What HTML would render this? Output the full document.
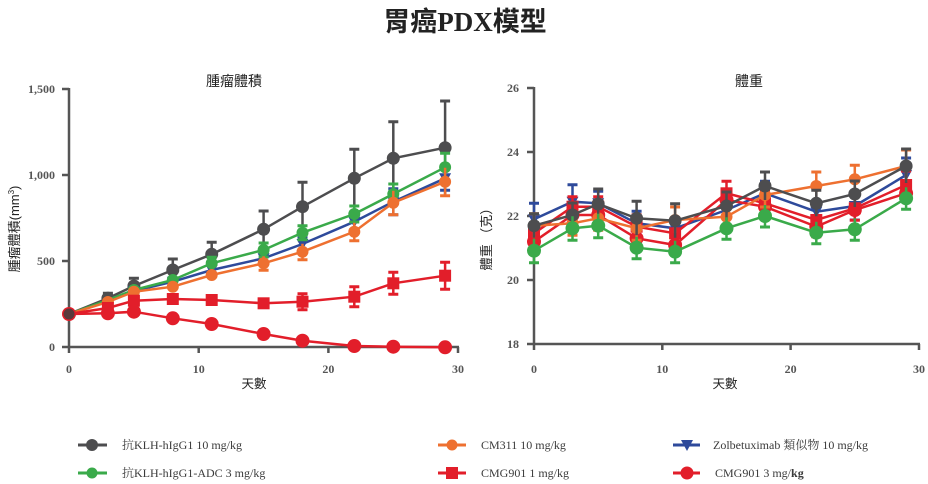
<!DOCTYPE html>
<html><head><meta charset="utf-8"><style>
html,body{margin:0;padding:0;background:#fff;}
svg{display:block;}
.tk{font-family:"Liberation Serif",serif;font-weight:bold;font-size:12px;fill:#555;}
.cj{font-family:"Liberation Sans","Noto Sans CJK TC",sans-serif;fill:#222;}
.lg{font-family:"Liberation Serif","Noto Serif CJK SC",serif;font-size:12px;fill:#3a3a3a;}
</style></head><body>
<svg width="928" height="484" viewBox="0 0 928 484" xmlns="http://www.w3.org/2000/svg">
<defs>
<circle id="cg" r="6.5" fill="#4d4d4f"/>
<circle id="cgr" r="6" fill="#3aaa4a"/>
<circle id="cgr2" r="7" fill="#3aaa4a"/>
<circle id="co" r="6" fill="#ee7030"/>
<circle id="cr" r="7" fill="#e21e2a"/>
<rect id="sr" x="-6" y="-6" width="12" height="12" fill="#e21e2a"/>
<polygon id="tb" points="-6,-5 6,-5 0,6" fill="#2e4a9b"/>
</defs>
<rect width="928" height="484" fill="#fff"/>

<!-- Title -->
<text x="465" y="31" text-anchor="middle" font-size="27" font-weight="bold" fill="#222"><tspan font-family="Noto Sans CJK TC,sans-serif">胃癌</tspan><tspan font-family="Liberation Serif,serif">PDX</tspan><tspan font-family="Noto Sans CJK TC,sans-serif">模型</tspan></text>

<!-- ============ LEFT CHART ============ -->
<text class="cj" x="234" y="86" text-anchor="middle" font-size="14">腫瘤體積</text>
<text class="cj" transform="translate(19,229) rotate(-90)" text-anchor="middle" font-size="13">腫瘤體積(mm<tspan font-size="8" dy="-5">3</tspan><tspan dy="5">)</tspan></text>
<text class="cj" x="254" y="388" text-anchor="middle" font-size="12.5">天數</text>
<g stroke="#555" stroke-width="2.5" fill="none">
<line x1="69" y1="88" x2="69" y2="353"/>
<line x1="68" y1="347" x2="459" y2="347"/>
<line x1="62" y1="89" x2="69" y2="89"/>
<line x1="62" y1="175" x2="69" y2="175"/>
<line x1="62" y1="261" x2="69" y2="261"/>
<line x1="62" y1="347" x2="69" y2="347"/>
<line x1="198.7" y1="347" x2="198.7" y2="353"/>
<line x1="328.4" y1="347" x2="328.4" y2="353"/>
<line x1="458" y1="347" x2="458" y2="353"/>
</g>
<text class="tk" x="55" y="93" text-anchor="end">1,500</text>
<text class="tk" x="55" y="179" text-anchor="end">1,000</text>
<text class="tk" x="55" y="265" text-anchor="end">500</text>
<text class="tk" x="55" y="351" text-anchor="end">0</text>
<text class="tk" x="69" y="373" text-anchor="middle">0</text>
<text class="tk" x="198.7" y="373" text-anchor="middle">10</text>
<text class="tk" x="328.4" y="373" text-anchor="middle">20</text>
<text class="tk" x="458" y="373" text-anchor="middle">30</text>

<!-- gray -->
<g stroke="#4d4d4f" stroke-width="2.5" fill="none">
<polyline points="69,314 107.9,298.3 133.9,286 172.8,270 211.7,254.3 263.6,229.3 302.5,206.7 354.3,178.3 393.3,158.3 445.1,147.7"/>
<path d="M107.9,293.3V303.3M133.9,278.3V293.7M172.8,259V281M211.7,242.3V266.3M263.6,211V247.6M302.5,182.3V231.1M354.3,149.3V207.3M393.3,121.7V194.9M445.1,101V194.4"/>
<path stroke-width="3" d="M102.9,293.3h10M128.9,278.3h10M167.8,259h10M206.7,242.3h10M258.6,211h10M297.5,182.3h10M349.3,149.3h10M388.3,121.7h10M440.1,101h10"/>
</g>
<g><use href="#cg" x="69" y="314"/><use href="#cg" x="107.9" y="298.3"/><use href="#cg" x="133.9" y="286"/><use href="#cg" x="172.8" y="270"/><use href="#cg" x="211.7" y="254.3"/><use href="#cg" x="263.6" y="229.3"/><use href="#cg" x="302.5" y="206.7"/><use href="#cg" x="354.3" y="178.3"/><use href="#cg" x="393.3" y="158.3"/><use href="#cg" x="445.1" y="147.7"/></g>

<!-- blue -->
<g stroke="#2e4a9b" stroke-width="2.5" fill="none">
<polyline points="69,314 107.9,301 133.9,291 172.8,281.7 211.7,270 263.6,258.3 302.5,244 354.3,221.7 393.3,201.7 445.1,178.3"/>
<path d="M263.6,252.3V264.3M302.5,237V251M354.3,213.7V229.7M393.3,188.7V214.7M445.1,166.3V190.3"/>
<path stroke-width="3" d="M258.6,252.3h10M258.6,264.3h10M297.5,237h10M297.5,251h10M349.3,213.7h10M349.3,229.7h10M388.3,188.7h10M388.3,214.7h10M440.1,166.3h10M440.1,190.3h10"/>
</g>
<g><use href="#tb" x="133.9" y="291"/><use href="#tb" x="172.8" y="281.7"/><use href="#tb" x="211.7" y="270"/><use href="#tb" x="263.6" y="258.3"/><use href="#tb" x="302.5" y="244"/><use href="#tb" x="354.3" y="221.7"/><use href="#tb" x="393.3" y="201.7"/><use href="#tb" x="445.1" y="178.3"/></g>

<!-- green -->
<g stroke="#3aaa4a" stroke-width="2.5" fill="none">
<polyline points="69,314 107.9,300 133.9,290 172.8,280 211.7,263.3 263.6,250 302.5,232.7 354.3,214 393.3,194 445.1,167.3"/>
<path d="M211.7,257.3V269.3M263.6,243V257M302.5,225.7V239.7M354.3,206V222M393.3,184V204M445.1,153.3V181.3"/>
<path stroke-width="3" d="M206.7,257.3h10M258.6,243h10M258.6,257h10M297.5,225.7h10M297.5,239.7h10M349.3,206h10M349.3,222h10M388.3,184h10M388.3,204h10M440.1,153.3h10M440.1,181.3h10"/>
</g>
<g><use href="#cgr" x="133.9" y="290"/><use href="#cgr" x="172.8" y="280"/><use href="#cgr" x="211.7" y="263.3"/><use href="#cgr" x="263.6" y="250"/><use href="#cgr" x="302.5" y="232.7"/><use href="#cgr" x="354.3" y="214"/><use href="#cgr" x="393.3" y="194"/><use href="#cgr" x="445.1" y="167.3"/></g>

<!-- orange -->
<g stroke="#ee7030" stroke-width="2.5" fill="none">
<polyline points="69,314 107.9,302 133.9,291.7 172.8,286.7 211.7,275 263.6,263.3 302.5,251.7 354.3,231.7 393.3,202.7 445.1,181.7"/>
<path d="M263.6,256.3V270.3M302.5,243.7V259.7M354.3,222.7V240.7M393.3,190.7V214.7M445.1,167.7V195.7"/>
<path stroke-width="3" d="M258.6,270.3h10M297.5,259.7h10M349.3,240.7h10M388.3,214.7h10M440.1,195.7h10"/>
</g>
<g><use href="#co" x="107.9" y="302"/><use href="#co" x="133.9" y="291.7"/><use href="#co" x="172.8" y="286.7"/><use href="#co" x="211.7" y="275"/><use href="#co" x="263.6" y="263.3"/><use href="#co" x="302.5" y="251.7"/><use href="#co" x="354.3" y="231.7"/><use href="#co" x="393.3" y="202.7"/><use href="#co" x="445.1" y="181.7"/></g>

<!-- red square -->
<g stroke="#e21e2a" stroke-width="2.5" fill="none">
<polyline points="69,314 107.9,308 133.9,300.7 172.8,299 211.7,300 263.6,303.3 302.5,301.7 354.3,296.7 393.3,283.3 445.1,275.7"/>
<path d="M302.5,293.7V309.7M354.3,286.7V306.7M393.3,272.3V294.3M445.1,262.2V289.2"/>
<path stroke-width="3" d="M297.5,293.7h10M297.5,309.7h10M349.3,286.7h10M349.3,306.7h10M388.3,272.3h10M388.3,294.3h10M440.1,262.2h10M440.1,289.2h10"/>
</g>
<g><use href="#sr" x="107.9" y="308"/><use href="#sr" x="133.9" y="300.7"/><use href="#sr" x="172.8" y="299"/><use href="#sr" x="211.7" y="300"/><use href="#sr" x="263.6" y="303.3"/><use href="#sr" x="302.5" y="301.7"/><use href="#sr" x="354.3" y="296.7"/><use href="#sr" x="393.3" y="283.3"/><use href="#sr" x="445.1" y="275.7"/></g>

<!-- red circle -->
<polyline fill="none" stroke="#e21e2a" stroke-width="2.5" points="69,314 107.9,313.3 133.9,311.7 172.8,318.3 211.7,324 263.6,334 302.5,340.7 354.3,346 393.3,346.7 445.1,347.3"/>
<g><use href="#cr" x="107.9" y="313.3"/><use href="#cr" x="133.9" y="311.7"/><use href="#cr" x="172.8" y="318.3"/><use href="#cr" x="211.7" y="324"/><use href="#cr" x="263.6" y="334"/><use href="#cr" x="302.5" y="340.7"/><use href="#cr" x="354.3" y="346"/><use href="#cr" x="393.3" y="346.7"/><use href="#cr" x="445.1" y="347.3"/></g>
<circle cx="69" cy="314" r="7" fill="#e21e2a"/>
<circle cx="69" cy="314" r="5.5" fill="#5a3a3c"/>

<!-- ============ RIGHT CHART ============ -->
<text class="cj" x="749" y="86" text-anchor="middle" font-size="14">體重</text>
<text class="cj" transform="translate(491,236) rotate(-90)" text-anchor="middle" font-size="13">體重 （克）</text>
<text class="cj" x="725" y="388" text-anchor="middle" font-size="12.5">天數</text>
<g stroke="#555" stroke-width="2.5" fill="none">
<line x1="534" y1="87" x2="534" y2="350"/>
<line x1="533" y1="344" x2="920" y2="344"/>
<line x1="527" y1="88" x2="534" y2="88"/>
<line x1="527" y1="152" x2="534" y2="152"/>
<line x1="527" y1="216" x2="534" y2="216"/>
<line x1="527" y1="280" x2="534" y2="280"/>
<line x1="527" y1="344" x2="534" y2="344"/>
<line x1="662.3" y1="344" x2="662.3" y2="350"/>
<line x1="790.6" y1="344" x2="790.6" y2="350"/>
<line x1="919" y1="344" x2="919" y2="350"/>
</g>
<text class="tk" x="519" y="92" text-anchor="end">26</text>
<text class="tk" x="519" y="156" text-anchor="end">24</text>
<text class="tk" x="519" y="220" text-anchor="end">22</text>
<text class="tk" x="519" y="284" text-anchor="end">20</text>
<text class="tk" x="519" y="348" text-anchor="end">18</text>
<text class="tk" x="534" y="373" text-anchor="middle">0</text>
<text class="tk" x="662.3" y="373" text-anchor="middle">10</text>
<text class="tk" x="790.6" y="373" text-anchor="middle">20</text>
<text class="tk" x="919" y="373" text-anchor="middle">30</text>

<!-- blue -->
<g stroke="#2e4a9b" stroke-width="2.5" fill="none">
<polyline points="534,219.3 572.5,201.7 598.2,203.3 636.6,223.3 675.1,228.3 726.5,210 765,193.3 816.3,211.7 854.8,206 906.1,175"/>
<path d="M534,203.3V235.3M572.5,184.7V218.7M598.2,191.3V215.3M636.6,211.3V235.3M675.1,214.3V242.3M726.5,196V224M765,181.3V205.3M816.3,197.7V225.7M854.8,192V220M906.1,158V192"/>
<path stroke-width="3" d="M529,203.3h10M529,235.3h10M567.5,184.7h10M567.5,218.7h10M593.2,191.3h10M631.6,211.3h10M670.1,242.3h10M721.5,196h10M760,181.3h10M811.3,225.7h10M849.8,220h10M901.1,158h10M901.1,192h10"/>
</g>
<g><use href="#tb" x="534" y="219.3"/><use href="#tb" x="572.5" y="201.7"/><use href="#tb" x="598.2" y="203.3"/><use href="#tb" x="636.6" y="223.3"/><use href="#tb" x="675.1" y="228.3"/><use href="#tb" x="726.5" y="210"/><use href="#tb" x="765" y="193.3"/><use href="#tb" x="816.3" y="211.7"/><use href="#tb" x="854.8" y="206"/><use href="#tb" x="906.1" y="175"/></g>

<!-- red square -->
<g stroke="#e21e2a" stroke-width="2.5" fill="none">
<polyline points="534,233.3 572.5,206.7 598.2,206.7 636.6,226.7 675.1,233.3 726.5,193.3 765,203.3 816.3,220 854.8,208.3 906.1,185"/>
<path d="M534,221.3V245.3M572.5,196.7V216.7M598.2,196.7V216.7M636.6,214.7V238.7M675.1,221.3V245.3M726.5,181.3V205.3M765,191.3V215.3M816.3,208V232M854.8,196.3V220.3M906.1,171V199"/>
<path stroke-width="3" d="M567.5,196.7h10M593.2,196.7h10M631.6,214.7h10M670.1,245.3h10M721.5,181.3h10M760,191.3h10M811.3,232h10M849.8,220.3h10M901.1,171h10"/>
</g>
<g><use href="#sr" x="534" y="233.3"/><use href="#sr" x="572.5" y="206.7"/><use href="#sr" x="598.2" y="206.7"/><use href="#sr" x="636.6" y="226.7"/><use href="#sr" x="675.1" y="233.3"/><use href="#sr" x="726.5" y="193.3"/><use href="#sr" x="765" y="203.3"/><use href="#sr" x="816.3" y="220"/><use href="#sr" x="854.8" y="208.3"/><use href="#sr" x="906.1" y="185"/></g>

<!-- red circle -->
<g stroke="#e21e2a" stroke-width="2.5" fill="none">
<polyline points="534,241.7 572.5,215 598.2,215 636.6,238.3 675.1,245 726.5,200 765,206.7 816.3,226.7 854.8,210 906.1,193.3"/>
<path d="M534,231.7V251.7M636.6,228.3V248.3M675.1,235V255M726.5,190V210M816.3,216.7V236.7M906.1,181.3V205.3"/>
<path stroke-width="3" d="M529,251.7h10M631.6,248.3h10M670.1,255h10M721.5,190h10M811.3,236.7h10M901.1,181.3h10"/>
</g>
<g><use href="#cr" x="534" y="241.7"/><use href="#cr" x="572.5" y="215"/><use href="#cr" x="598.2" y="215"/><use href="#cr" x="636.6" y="238.3"/><use href="#cr" x="675.1" y="245"/><use href="#cr" x="726.5" y="200"/><use href="#cr" x="765" y="206.7"/><use href="#cr" x="816.3" y="226.7"/><use href="#cr" x="854.8" y="210"/><use href="#cr" x="906.1" y="193.3"/></g>

<!-- orange -->
<g stroke="#ee7030" stroke-width="2.5" fill="none">
<polyline points="534,225.7 572.5,223.3 598.2,218.3 636.6,228.3 675.1,220 726.5,216.7 765,195 816.3,186 854.8,179.3 906.1,166"/>
<path d="M534,213.7V237.7M572.5,211.3V235.3M598.2,206.3V230.3M636.6,216.3V240.3M675.1,207V233M726.5,204.7V228.7M765,183V207M816.3,172V200M854.8,165.3V193.3M906.1,150V182"/>
<path stroke-width="3" d="M529,213.7h10M567.5,235.3h10M593.2,230.3h10M631.6,240.3h10M670.1,207h10M721.5,228.7h10M760,207h10M811.3,172h10M849.8,165.3h10M901.1,150h10"/>
</g>
<g><use href="#co" x="534" y="225.7"/><use href="#co" x="572.5" y="223.3"/><use href="#co" x="598.2" y="218.3"/><use href="#co" x="636.6" y="228.3"/><use href="#co" x="675.1" y="220"/><use href="#co" x="726.5" y="216.7"/><use href="#co" x="765" y="195"/><use href="#co" x="816.3" y="186"/><use href="#co" x="854.8" y="179.3"/><use href="#co" x="906.1" y="166"/></g>

<!-- gray -->
<g stroke="#4d4d4f" stroke-width="2.5" fill="none">
<polyline points="534,225.7 572.5,215 598.2,204 636.6,218.3 675.1,220.7 726.5,206 765,186 816.3,203.3 854.8,194 906.1,166"/>
<path d="M534,213.7V237.7M572.5,203V227M598.2,189V219M636.6,201.3V235.3M675.1,203.7V237.7M726.5,192V220M765,172V200M816.3,190.3V216.3M854.8,181V207M906.1,149V183"/>
<path stroke-width="3" d="M529,213.7h10M567.5,203h10M593.2,189h10M631.6,201.3h10M670.1,203.7h10M721.5,192h10M760,172h10M811.3,190.3h10M849.8,181h10M901.1,149h10"/>
</g>
<g><use href="#cg" x="534" y="225.7"/><use href="#cg" x="572.5" y="215"/><use href="#cg" x="598.2" y="204"/><use href="#cg" x="636.6" y="218.3"/><use href="#cg" x="675.1" y="220.7"/><use href="#cg" x="726.5" y="206"/><use href="#cg" x="765" y="186"/><use href="#cg" x="816.3" y="203.3"/><use href="#cg" x="854.8" y="194"/><use href="#cg" x="906.1" y="166"/></g>

<!-- green -->
<g stroke="#3aaa4a" stroke-width="2.5" fill="none">
<polyline points="534,250.7 572.5,228.3 598.2,225.7 636.6,247.7 675.1,251.7 726.5,228.3 765,216 816.3,232.7 854.8,229.3 906.1,198.3"/>
<path d="M534,238.7V262.7M572.5,216.3V240.3M598.2,213.7V237.7M636.6,236.7V258.7M675.1,240.7V262.7M726.5,217.3V239.3M765,205V227M816.3,221.7V243.7M854.8,218.3V240.3M906.1,187.3V209.3"/>
<path stroke-width="3" d="M529,262.7h10M567.5,240.3h10M593.2,237.7h10M631.6,258.7h10M670.1,262.7h10M721.5,239.3h10M760,227h10M811.3,243.7h10M849.8,240.3h10M901.1,209.3h10"/>
</g>
<g><use href="#cgr2" x="534" y="250.7"/><use href="#cgr2" x="572.5" y="228.3"/><use href="#cgr2" x="598.2" y="225.7"/><use href="#cgr2" x="636.6" y="247.7"/><use href="#cgr2" x="675.1" y="251.7"/><use href="#cgr2" x="726.5" y="228.3"/><use href="#cgr2" x="765" y="216"/><use href="#cgr2" x="816.3" y="232.7"/><use href="#cgr2" x="854.8" y="229.3"/><use href="#cgr2" x="906.1" y="198.3"/></g>

<!-- ============ LEGEND ============ -->
<g stroke-width="3">
<line x1="78" y1="445" x2="107" y2="445" stroke="#4d4d4f"/>
<line x1="78" y1="473" x2="107" y2="473" stroke="#3aaa4a"/>
<line x1="438" y1="445" x2="466" y2="445" stroke="#ee7030"/>
<line x1="438" y1="473" x2="466" y2="473" stroke="#e21e2a"/>
<line x1="673" y1="445" x2="700" y2="445" stroke="#2e4a9b"/>
<line x1="673" y1="473" x2="700" y2="473" stroke="#e21e2a"/>
</g>
<circle cx="92" cy="445" r="6" fill="#4d4d4f"/>
<circle cx="92" cy="473" r="5.5" fill="#3aaa4a"/>
<circle cx="452" cy="445" r="5.5" fill="#ee7030"/>
<rect x="446" y="467" width="12" height="12" fill="#e21e2a"/>
<polygon points="681,440 693,440 687,451" fill="#2e4a9b"/>
<circle cx="687" cy="473" r="6.5" fill="#e21e2a"/>
<text class="lg" x="122" y="449">抗KLH-hIgG1 10 mg/kg</text>
<text class="lg" x="122" y="477">抗KLH-hIgG1-ADC 3 mg/kg</text>
<text class="lg" x="481" y="449">CM311 10 mg/kg</text>
<text class="lg" x="481" y="477">CMG901 1 mg/kg</text>
<text class="lg" x="713" y="449">Zolbetuximab 類似物 10 mg/kg</text>
<text class="lg" x="715" y="477">CMG901 3 mg/<tspan font-weight="bold">kg</tspan></text>
</svg>
</body></html>
